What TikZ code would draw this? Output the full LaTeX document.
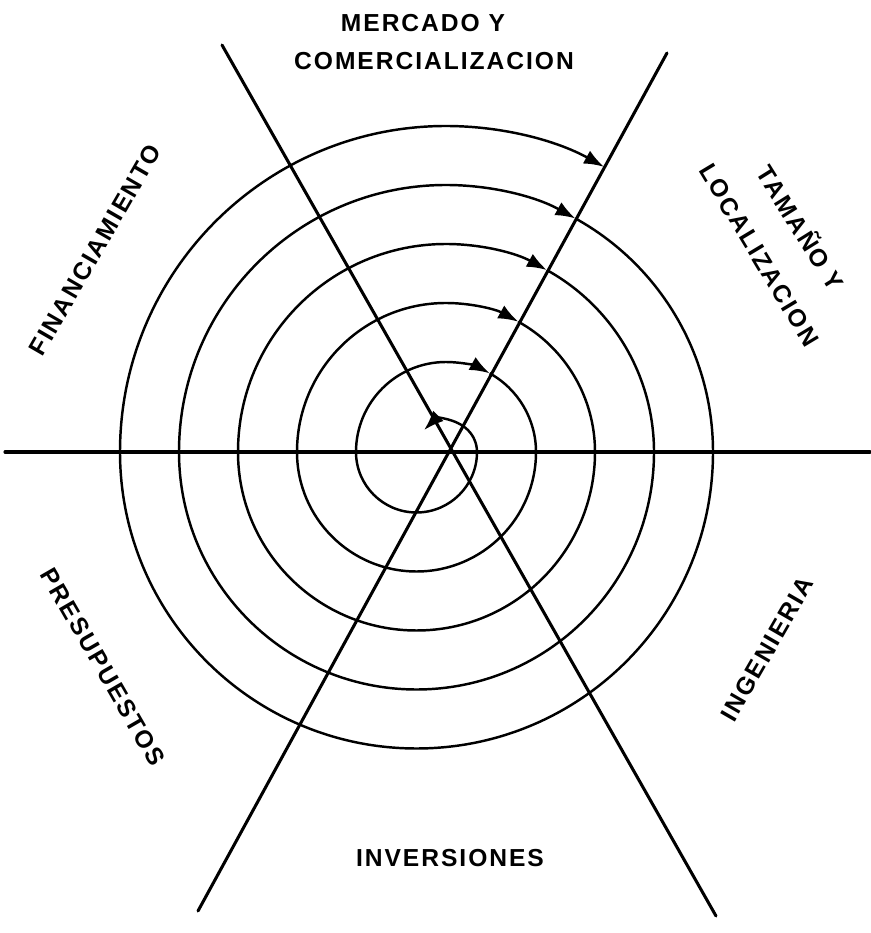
\documentclass[tikz,border=0pt]{standalone}
\usepackage{fontspec}
\usepackage{tikz}
\usetikzlibrary{arrows.meta,calc}
\newfontfamily\lblfont[LetterSpace=8.0]{Liberation Sans}
\tikzset{
  axisline/.style={line width=2.6pt, line cap=round},
  spire/.style={line width=2.1pt, -{Latex[length=6mm,width=4.4mm]}},
  lbl/.style={font=\lblfont\bfseries\fontsize{21}{25}\selectfont, inner sep=0pt}
}

\begin{document}
\begin{tikzpicture}[x=0.3mm,y=0.3mm]
            \useasboundingbox (0,0) rectangle (870,933);
            \coordinate (hl) at (5,481);
            \coordinate (hr) at (870,481);
            \coordinate (atop) at (222,888);
            \coordinate (abot) at (716,17);
            \coordinate (btop) at (667,880);
            \coordinate (bbot) at (198,22);
            \coordinate (ctop) at (446,481);
            \draw[axisline] (hl) -- (hr);
            \draw[axisline] (atop) -- (abot);
            \draw[axisline] (btop) -- (bbot);
            \draw[spire, {Latex[length=6mm,width=4.4mm]}-{Latex[length=6mm,width=4.4mm]}]
              ($(ctop)+(135:31)$) arc[start angle=135, end angle=0, radius=31]
              arc[start angle=0, end angle=-180, radius=60.5]
              arc[start angle=180, end angle=61, radius=90];
            \foreach \k in {1,...,4} {
              \pgfmathsetmacro\ra{31+59*\k}
              \pgfmathsetmacro\rb{\ra+29.5}
              \pgfmathsetmacro\rc{\ra+59}
              \draw[spire] ($(ctop)+(61:\ra)$) arc[start angle=61, end angle=0, radius=\ra]
                arc[start angle=0, end angle=-180, radius=\rb]
                arc[start angle=180, end angle=61, radius=\rc];
            }
            \node[lbl] (mercado) at (423,910) {MERCADO Y};
            \node[lbl] (comercial) at (434,872) {COMERCIALIZACION};
            \node[lbl, rotate=60] (financ) at (95,683) {FINANCIAMIENTO};
            \node[lbl, rotate=-58] (tamano) at (802,706) {TAMAÑO Y};
            \node[lbl, rotate=-59] (localiz) at (759,678) {LOCALIZACION};
            \node[lbl, rotate=-60] (presup) at (103,266) {PRESUPUESTOS};
            \node[lbl, rotate=60] (ingen) at (767,284) {INGENIERIA};
            \node[lbl] (invers) at (450,75) {INVERSIONES};
        \end{tikzpicture}
\end{document}
